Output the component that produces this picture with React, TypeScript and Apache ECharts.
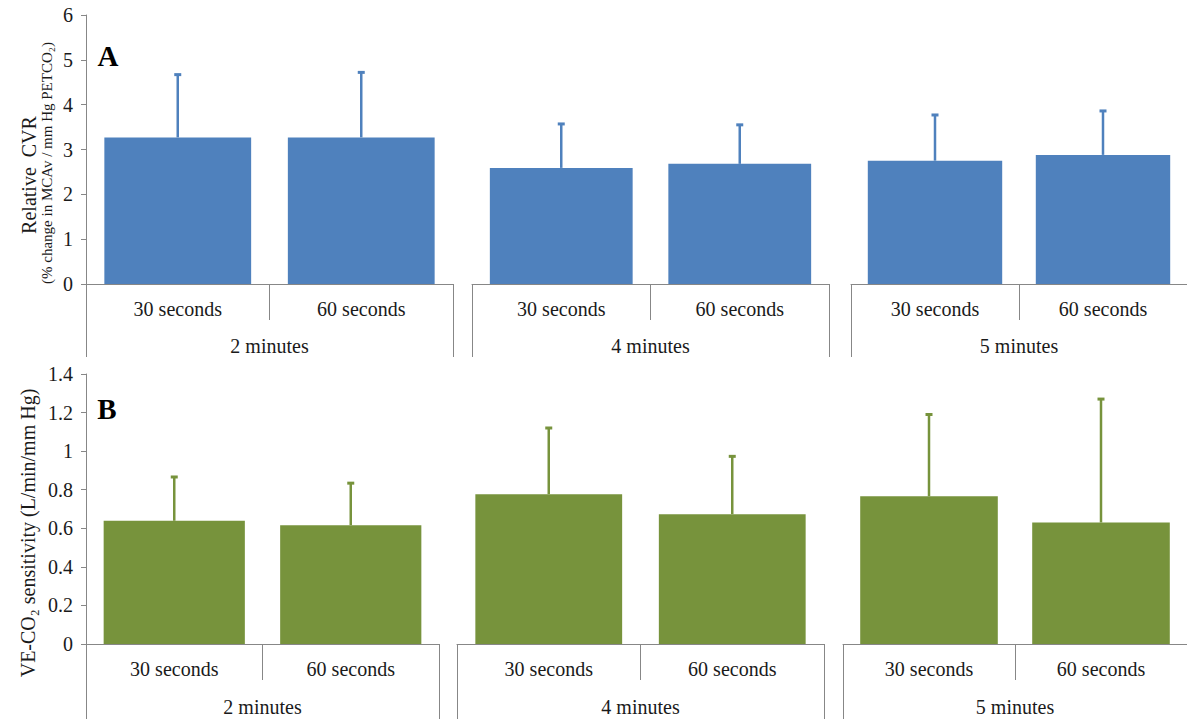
import React, { useEffect, useRef } from "react";
import * as echarts from "echarts";

const categories = ["30 seconds", "60 seconds"];
const groups = ["2 minutes", "4 minutes", "5 minutes"];
// Panel A: Relative CVR (mean, upper SD)
const cvrMean = [3.27, 3.27, 2.59, 2.68, 2.75, 2.88];
const cvrSD = [1.40, 1.45, 0.98, 0.87, 1.02, 0.98];
// Panel B: VE-CO2 sensitivity (mean, upper SD)
const veMean = [0.639, 0.616, 0.777, 0.673, 0.766, 0.63];
const veSD = [0.227, 0.218, 0.343, 0.3, 0.424, 0.64];
const yTicksA = { min: 0, max: 6, interval: 1 };
const yTicksB = { min: 0, max: 1.4, interval: 0.2 };

const FONT = "'Liberation Serif', 'Times New Roman', serif";
const AXIS = "#878787";
const TXT = "#1a1a1a";
const BLUE = "#4F81BD";
const GREEN = "#77933C";

const gridsA = [
  { left: 86, width: 367 },
  { left: 472, width: 357 },
  { left: 851, width: 344 },
];
const gridsB = [
  { left: 86, width: 353 },
  { left: 457, width: 367 },
  { left: 843, width: 348 },
];

export default function App() {
  const ref = useRef<HTMLDivElement>(null);
  useEffect(() => {
    if (!ref.current) return;
    const chart = echarts.init(ref.current, undefined, { renderer: "svg" });
    const grid: any[] = [];
    const xAxis: any[] = [];
    const yAxis: any[] = [];
    const series: any[] = [];
    const lbl = (margin: number) => ({
      color: TXT,
      fontSize: 20,
      fontFamily: FONT,
      margin,
      textStyle: { fontFamily: FONT, fontSize: 20, color: TXT },
    });

    const panels = [
      { grids: gridsA, top: 15, height: 269, ticks: yTicksA, mean: cvrMean, sd: cvrSD, color: BLUE, tick2: 73, lab1: 15, lab2: 52 },
      { grids: gridsB, top: 374, height: 270, ticks: yTicksB, mean: veMean, sd: veSD, color: GREEN, tick2: 80, lab1: 15, lab2: 53 },
    ];

    panels.forEach((p) => {
      p.grids.forEach((g, gi) => {
        const gIdx = grid.length;
        grid.push({ left: g.left, width: g.width, top: p.top, height: p.height, containLabel: false });
        const x1 = xAxis.length;
        xAxis.push({
          type: "category",
          gridIndex: gIdx,
          position: "bottom",
          data: categories,
          axisLine: { show: true, lineStyle: { color: AXIS, width: 1 } },
          axisTick: { show: true, length: 36, lineStyle: { color: AXIS } },
          axisLabel: lbl(p.lab1),
        });
        xAxis.push({
          type: "category",
          gridIndex: gIdx,
          position: "bottom",
          data: [groups[gi]],
          axisLine: { show: false },
          axisTick: { show: true, length: p.tick2, lineStyle: { color: AXIS } },
          axisLabel: lbl(p.lab2),
        });
        const yIdx = yAxis.length;
        yAxis.push({
          type: "value",
          gridIndex: gIdx,
          min: p.ticks.min,
          max: p.ticks.max,
          interval: p.ticks.interval,
          show: gi === 0,
          splitLine: { show: false },
          axisLine: { show: true, lineStyle: { color: AXIS } },
          axisTick: { show: true, length: 5, lineStyle: { color: AXIS } },
          axisLabel: lbl(13),
        });
        const means = p.mean.slice(gi * 2, gi * 2 + 2);
        const sds = p.sd.slice(gi * 2, gi * 2 + 2);
        series.push({
          type: "bar",
          xAxisIndex: x1,
          yAxisIndex: yIdx,
          data: means,
          barCategoryGap: "20%",
          itemStyle: { color: p.color },
          silent: true,
        });
        series.push({
          type: "custom",
          xAxisIndex: x1,
          yAxisIndex: yIdx,
          data: means.map((m, i) => [i, m, m + sds[i]]),
          encode: { x: 0, y: [1, 2] },
          z: 5,
          silent: true,
          renderItem: (params: any, api: any) => {
            const i = api.value(0);
            const p0 = api.coord([i, api.value(1)]);
            const p1 = api.coord([i, api.value(2)]);
            return {
              type: "group",
              children: [
                { type: "line", shape: { x1: p0[0], y1: p0[1], x2: p1[0], y2: p1[1] }, style: { stroke: p.color, lineWidth: 2.5 } },
                { type: "line", shape: { x1: p1[0] - 3.5, y1: p1[1], x2: p1[0] + 3.5, y2: p1[1] }, style: { stroke: p.color, lineWidth: 3 } },
              ],
            };
          },
        });
      });
    });

    chart.setOption({
      animation: false,
      backgroundColor: "#ffffff",
      textStyle: { fontFamily: FONT },
      grid,
      xAxis,
      yAxis,
      series,
      graphic: [
        { type: "text", x: 108, y: 56, style: { text: "A", font: `bold 29px ${FONT}`, fill: "#000", textAlign: "center", textVerticalAlign: "middle" } },
        { type: "text", x: 107, y: 409, style: { text: "B", font: `bold 29px ${FONT}`, fill: "#000", textAlign: "center", textVerticalAlign: "middle" } },
        { type: "text", x: 29, y: 175, rotation: Math.PI / 2, style: { text: "Relative  CVR", font: `20px ${FONT}`, fill: TXT, textAlign: "center", textVerticalAlign: "middle" } },
        { type: "text", x: 47, y: 163, rotation: Math.PI / 2, style: { text: "(% change in MCAv / mm Hg PETCO₂)", font: `15px ${FONT}`, fill: TXT, textAlign: "center", textVerticalAlign: "middle" } },
        { type: "text", x: 28, y: 533, rotation: Math.PI / 2, style: { text: "VE-CO₂ sensitivity (L/min/mm Hg)", font: `20px ${FONT}`, fill: TXT, textAlign: "center", textVerticalAlign: "middle" } },
      ],
    });
    return () => chart.dispose();
  }, []);
  return <div ref={ref} style={{ position: "fixed", left: 0, top: 0, width: 1187, height: 719, background: "#fff" }} />;
}
